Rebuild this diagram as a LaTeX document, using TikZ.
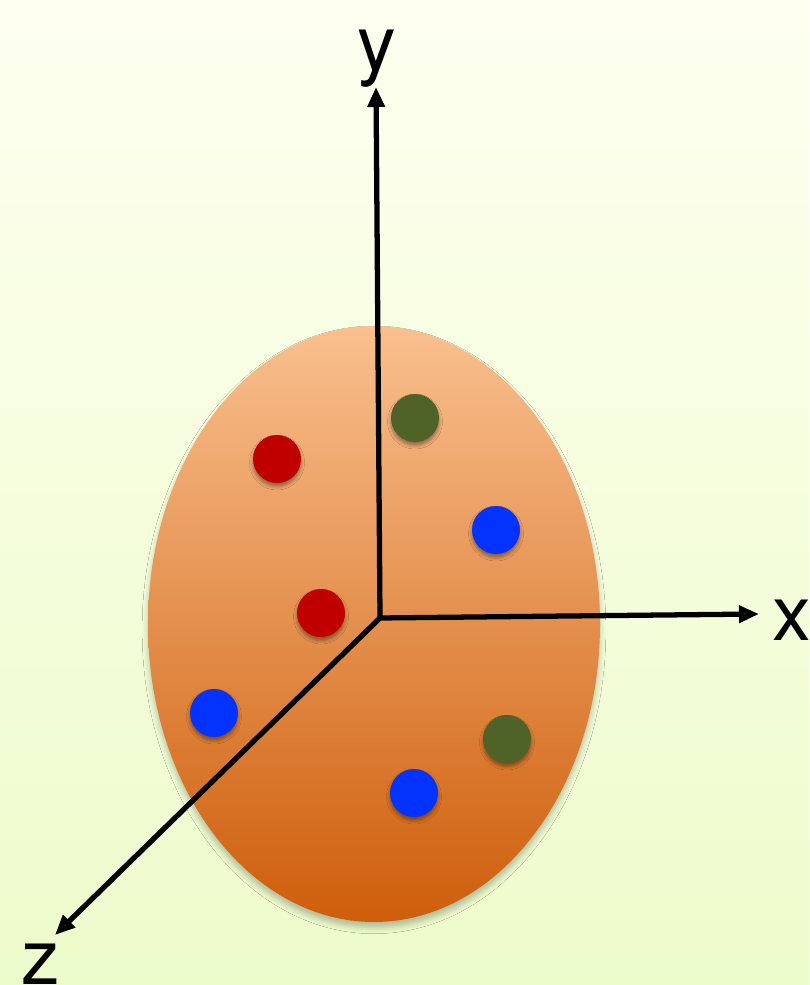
\documentclass[tikz,border=0pt]{standalone}
\usepackage{fontspec}
\setmainfont{TeX Gyre Heros}
\usetikzlibrary{arrows.meta,shadows.blur}
\definecolor{bgtop}{HTML}{FEFFF0}
\definecolor{bgbot}{HTML}{EDFCCB}
\definecolor{eltop}{HTML}{F9C08F}
\definecolor{elmid}{HTML}{F7A24E}
\definecolor{elbot}{HTML}{CE5E0B}
\definecolor{ptred}{HTML}{C00000}
\definecolor{ptgreen}{HTML}{4F6228}
\definecolor{ptblue}{HTML}{0433FF}
\tikzset{
  axis/.style={line width=4.5pt,-{Triangle[length=0.6cm,width=0.5cm]}},
  axislabel/.style={anchor=base,inner sep=0pt,font=\fontsize{66}{70}\selectfont},
  pt/.style={circle,inner sep=0pt,minimum size=1.44cm,fill=#1,
    blur shadow={shadow xshift=0pt,shadow yshift=-3pt,shadow blur radius=3pt,shadow opacity=40}}
}
\begin{document}
\begin{tikzpicture}[x=0.03cm,y=0.03cm]
  % background
  \shade[top color=bgtop,bottom color=bgbot] (0,0) rectangle (809,985);
  \useasboundingbox (0,0) rectangle (809,985);
  % cluster
  \shade[top color=eltop,middle color=elmid,bottom color=elbot,
    blur shadow={shadow xshift=0pt,shadow yshift=-5pt,shadow blur radius=5pt,shadow opacity=25}]
    (374,361) ellipse [x radius=226,y radius=298];
  % axes
  \coordinate (O) at (380,367);
  \coordinate (xend) at (759,371);
  \coordinate (yend) at (376,898);
  \coordinate (zend) at (55,50);
  \draw[axis] (O) -- (xend);
  \draw[axis] (O) -- (yend);
  \draw[axis] (O) -- (zend);
  \node[axislabel] (xlab) at (792,344) {x};
  \node[axislabel] (ylab) at (377,914) {y};
  \node[axislabel] (zlab) at (41,0) {z};
  % points
  \node[pt=ptred] (r1) at (277,526) {};
  \node[pt=ptred] (r2) at (321,372) {};
  \node[pt=ptgreen] (g1) at (415,567) {};
  \node[pt=ptgreen] (g2) at (507,246) {};
  \node[pt=ptblue] (b1) at (496,455) {};
  \node[pt=ptblue] (b2) at (214,272) {};
  \node[pt=ptblue] (b3) at (414,192) {};
\end{tikzpicture}
\end{document}
